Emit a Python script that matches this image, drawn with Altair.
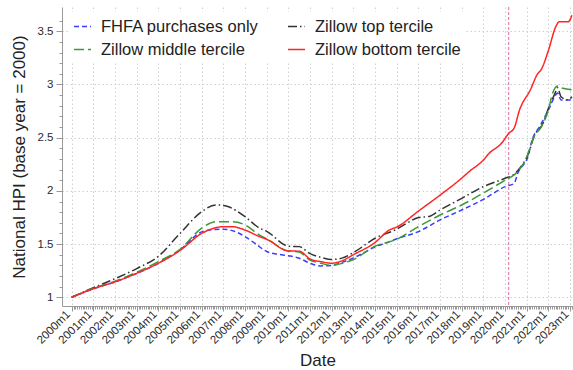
import altair as alt
import pandas as pd

# ---- series (national house price index, 2000 = 1) ----
SERIES = ["FHFA purchases only", "Zillow top tercile",
          "Zillow middle tercile", "Zillow bottom tercile"]
COLORS = ["#3c3cff", "#333333", "#3a9a3a", "#ff2626"]
DASHES = [[5, 3], [9, 3, 1.5, 3], [10, 4], [1, 0]]

fhfa_months = ["2000-01", "2001-01", "2002-01", "2003-01", "2004-01", "2005-01",
               "2006-01", "2006-07", "2007-01", "2007-07", "2008-01", "2008-07",
               "2009-01", "2009-07", "2010-01", "2010-07", "2011-01", "2011-07",
               "2012-01", "2012-07", "2013-01", "2013-07", "2014-01", "2014-07",
               "2015-01", "2016-01", "2017-01", "2018-01", "2019-01", "2020-01",
               "2020-06", "2020-08", "2021-02", "2021-04", "2021-08", "2022-01",
               "2022-05", "2022-06", "2022-08", "2023-02"]
fhfa_hpi = [1.00, 1.08, 1.145, 1.225, 1.32, 1.445,
            1.615, 1.635, 1.64, 1.62, 1.57, 1.50,
            1.43, 1.405, 1.39, 1.367, 1.32, 1.295,
            1.30, 1.33, 1.37, 1.42, 1.475, 1.51,
            1.55, 1.617, 1.727, 1.82, 1.92, 2.04,
            2.07, 2.165, 2.34, 2.48, 2.60, 2.76,
            2.90, 2.92, 2.855, 2.855]

top_months = ["2000-01", "2001-01", "2002-01", "2003-01", "2004-01", "2005-01",
              "2006-01", "2006-09", "2007-03", "2008-01", "2008-09", "2009-01",
              "2010-01", "2010-07", "2011-01", "2011-07", "2012-01", "2012-07",
              "2013-01", "2014-01", "2015-01", "2015-07", "2016-01", "2016-07",
              "2017-01", "2018-01", "2019-01", "2020-01", "2020-06", "2020-09",
              "2021-02", "2021-05", "2021-10", "2022-01", "2022-05", "2022-06",
              "2022-08", "2022-12", "2023-02"]
top_hpi = [1.00, 1.09, 1.175, 1.27, 1.385, 1.60,
           1.805, 1.868, 1.855, 1.757, 1.65, 1.62,
           1.48, 1.476, 1.41, 1.376, 1.355, 1.37,
           1.42, 1.555, 1.64, 1.70, 1.75, 1.76,
           1.82, 1.93, 2.04, 2.118, 2.156, 2.21,
           2.353, 2.51, 2.635, 2.776, 2.93, 2.97,
           2.885, 2.855, 2.885]

mid_months = ["2000-01", "2001-01", "2002-01", "2003-01", "2004-01", "2005-01",
              "2006-01", "2006-09", "2007-06", "2008-01", "2008-09", "2009-01",
              "2010-01", "2010-07", "2011-01", "2011-07", "2012-01", "2012-07",
              "2013-01", "2014-01", "2015-01", "2016-01", "2017-01", "2018-01",
              "2019-01", "2020-01", "2020-06", "2020-09", "2021-01", "2021-05",
              "2021-09", "2022-01", "2022-03", "2022-06", "2022-09", "2023-02"]
mid_hpi = [1.00, 1.085, 1.15, 1.235, 1.335, 1.45,
           1.65, 1.71, 1.71, 1.68, 1.585, 1.55,
           1.435, 1.425, 1.35, 1.32, 1.30, 1.32,
           1.355, 1.48, 1.545, 1.664, 1.773, 1.867,
           1.98, 2.10, 2.15, 2.20, 2.32, 2.51,
           2.60, 2.76, 2.90, 2.985, 2.964, 2.95]

bot_months = ["2000-01", "2001-01", "2002-01", "2003-01", "2004-01", "2005-01",
              "2006-01", "2007-01", "2007-06", "2008-01", "2008-09", "2009-01",
              "2010-01", "2010-07", "2011-01", "2011-07", "2012-01", "2012-07",
              "2013-01", "2014-01", "2014-09", "2015-01", "2016-01", "2017-01",
              "2018-01", "2018-05", "2019-01", "2019-04", "2019-11", "2020-03",
              "2020-06", "2020-09", "2021-03", "2021-07", "2021-09", "2022-01",
              "2022-05", "2022-07", "2022-12", "2023-02"]
bot_hpi = [1.00, 1.08, 1.145, 1.225, 1.32, 1.44,
           1.60, 1.663, 1.663, 1.632, 1.57, 1.545,
           1.435, 1.433, 1.36, 1.335, 1.32, 1.345,
           1.40, 1.515, 1.633, 1.66, 1.81, 1.96,
           2.12, 2.18, 2.29, 2.35, 2.447, 2.54,
           2.59, 2.76, 2.95, 3.10, 3.14, 3.32,
           3.54, 3.59, 3.59, 3.65]

covid_month = "2020-03"


def month_to_t(m):
    y, mo = m.split("-")
    return int(y) + (int(mo) - 1) / 12


frames = []
for name, months, vals in [(SERIES[0], fhfa_months, fhfa_hpi),
                           (SERIES[1], top_months, top_hpi),
                           (SERIES[2], mid_months, mid_hpi),
                           (SERIES[3], bot_months, bot_hpi)]:
    frames.append(pd.DataFrame({"series": name,
                                "t": [month_to_t(m) for m in months],
                                "hpi": vals}))
df = pd.concat(frames, ignore_index=True)
marker = pd.DataFrame({"t": [month_to_t(covid_month)]})

# monthly ticks on the date axis, tenth ticks on the index axis
x_ticks = [round(2000 + i / 12, 6) for i in range(0, 23 * 12 + 2)]
y_ticks = [round(1 + 0.1 * i, 1) for i in range(0, 27)]

FONT = "Liberation Sans"
x_major = "abs(datum.value - round(datum.value)) < 0.001"
y_major = "abs(datum.value * 2 - round(datum.value * 2)) < 0.001"

x_axis = alt.Axis(
    title="Date", values=x_ticks, tickCount=1000,
    labelExpr=f"{x_major} ? round(datum.value) + 'm1' : ''",
    labelAngle=-45, labelAlign="right", labelBaseline="bottom",
    labelOverlap=False, labelFlush=False, labelBound=False,
    labelFont=FONT, labelFontSize=11.5, labelColor="#2a2a2a", labelPadding=5,
    tickSize={"condition": {"test": x_major, "value": 5}, "value": 3},
    tickColor="#999999", domainColor="#999999",
    grid=True, gridDash=[1.5, 2.5], gridColor="#cfcfcf",
    gridOpacity={"condition": {"test": x_major, "value": 1}, "value": 0},
    titleFont=FONT, titleFontSize=17, titleFontWeight="normal",
    titleColor="#222222", titleY=46, titleBaseline="top",
)
y_axis = alt.Axis(
    title="National HPI (base year = 2000)", values=y_ticks, tickCount=1000,
    labelExpr=f"{y_major} ? format(datum.value, '~g') : ''",
    labelOverlap=False, labelFlush=False, labelBound=False,
    labelFont=FONT, labelFontSize=11.5, labelColor="#2a2a2a", labelPadding=3,
    tickSize={"condition": {"test": y_major, "value": 6}, "value": 3},
    tickColor="#999999", domainColor="#999999",
    grid=True, gridDash=[1.5, 2.5], gridColor="#cfcfcf",
    gridOpacity={"condition": {"test": y_major, "value": 1}, "value": 0},
    titleFont=FONT, titleFontSize=17, titleFontWeight="normal",
    titleColor="#222222", titlePadding=9,
)

legend = alt.Legend(
    title=None, orient="none", legendX=6, legendY=5, columns=2,
    direction="horizontal",
    columnPadding=25, rowPadding=5, padding=5, fillColor="white",
    labelFont=FONT, labelFontSize=16.5, labelColor="#222222", labelOffset=9,
    symbolType="stroke", symbolSize=289, symbolStrokeWidth=1.6,
)

x_scale = alt.Scale(domain=[1999.552, 2023.134], nice=False, zero=False)
y_scale = alt.Scale(domain=[0.918, 3.728], nice=False, zero=False)

lines = alt.Chart(df).mark_line(strokeWidth=1.5, interpolate="monotone").encode(
    x=alt.X("t:Q", scale=x_scale, axis=x_axis),
    y=alt.Y("hpi:Q", scale=y_scale, axis=y_axis),
    color=alt.Color("series:N", scale=alt.Scale(domain=SERIES, range=COLORS),
                    legend=legend),
    strokeDash=alt.StrokeDash("series:N",
                              scale=alt.Scale(domain=SERIES, range=DASHES),
                              legend=legend),
)

covid_rule = alt.Chart(marker).mark_rule(
    color="#dc6aa0", strokeDash=[3, 2], strokeWidth=1
).encode(x=alt.X("t:Q", scale=x_scale))

chart = alt.layer(covid_rule, lines).properties(
    width=511, height=299,
    autosize=alt.AutoSizeParams(type="none"),
    padding={"left": 62, "top": 7, "right": 0, "bottom": 64},
    background="white",
).configure_view(stroke=None)

chart.save("out.html", embed_options={"renderer": "svg", "actions": False})
